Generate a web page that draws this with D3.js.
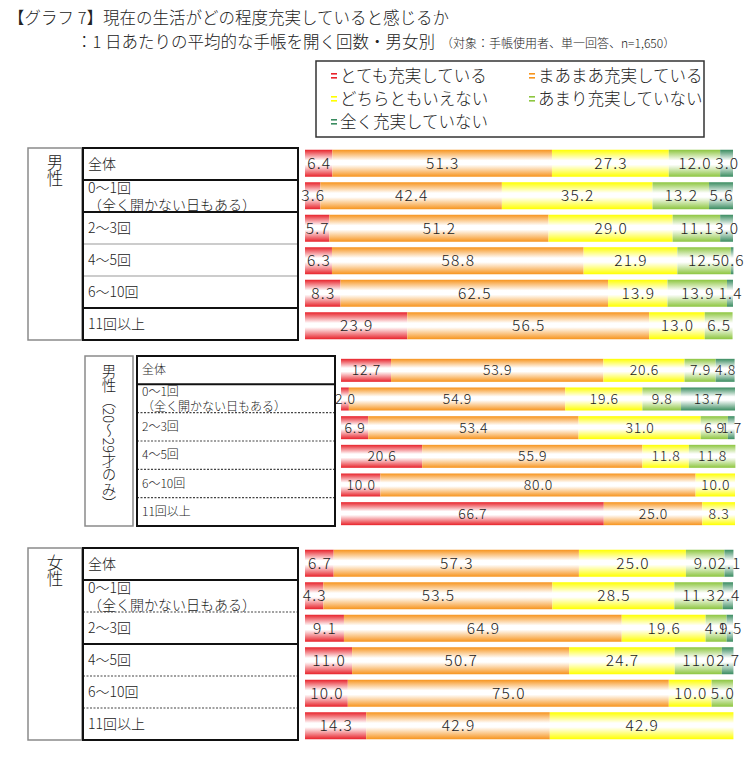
<!DOCTYPE html>
<html><head><meta charset="utf-8">
<script src="https://cdn.jsdelivr.net/npm/d3@7"></script>
<style>
html,body{margin:0;padding:0;background:#fff;}
svg{display:block;font-family:"Noto Sans CJK JP","Noto Sans",sans-serif;font-weight:300;}
</style></head>
<body>
<svg id="chart" width="748" height="768"></svg>
<script>
// ---- data ----
const titleLine1 = "【グラフ 7】現在の生活がどの程度充実していると感じるか";
const titleLine2 = "：1 日あたりの平均的な手帳を開く回数・男女別";
const titleNote = "（対象：手帳使用者、単一回答、n=1,650）";
const seriesNames = ["とても充実している","まあまあ充実している","どちらともいえない","あまり充実していない","全く充実していない"];
const seriesColors = ["#e8222a","#f7941d","#ffff00","#8dc63f","#3a8c60"];
const categories = ["全体","0～1回","2～3回","4～5回","6～10回","11回以上"];
const categoryNote = "（全く開かない日もある）";
const groupNames = ["男性","男性（20～29才のみ）","女性"];
const maleValues = [
  [6.4,51.3,27.3,12.0,3.0],
  [3.6,42.4,35.2,13.2,5.6],
  [5.7,51.2,29.0,11.1,3.0],
  [6.3,58.8,21.9,12.5,0.6],
  [8.3,62.5,13.9,13.9,1.4],
  [23.9,56.5,13.0,6.5,0]
];
const male20sValues = [
  [12.7,53.9,20.6,7.9,4.8],
  [2.0,54.9,19.6,9.8,13.7],
  [6.9,53.4,31.0,6.9,1.7],
  [20.6,55.9,11.8,11.8,0],
  [10.0,80.0,10.0,0,0],
  [66.7,25.0,8.3,0,0]
];
const femaleValues = [
  [6.7,57.3,25.0,9.0,2.1],
  [4.3,53.5,28.5,11.3,2.4],
  [9.1,64.9,19.6,4.9,1.5],
  [11.0,50.7,24.7,11.0,2.7],
  [10.0,75.0,10.0,5.0,0],
  [14.3,42.9,42.9,0,0]
];

// ---- drawing ----
const svg = d3.select("#chart");
const defs = svg.append("defs");
seriesColors.forEach((c,i)=>{
  const g = defs.append("linearGradient").attr("id","g"+i)
    .attr("x1",0).attr("y1",0).attr("x2",0).attr("y2",1);
  g.append("stop").attr("offset","0%").attr("stop-color",c);
  g.append("stop").attr("offset","40%").attr("stop-color","#fff");
  g.append("stop").attr("offset","55%").attr("stop-color","#fff");
  g.append("stop").attr("offset","100%").attr("stop-color",c);
});

// title
svg.append("text").attr("x",8).attr("y",24).attr("font-size",16.5).attr("fill","#222").text(titleLine1);
const t2 = svg.append("text").attr("x",76).attr("y",48).attr("font-size",16.5).attr("fill","#222");
t2.append("tspan").text(titleLine2);
t2.append("tspan").attr("font-size",12).attr("dx",6).text(titleNote);

// legend
svg.append("rect").attr("x",316).attr("y",61).attr("width",388).attr("height",76)
  .attr("fill","none").attr("stroke","#333").attr("stroke-width",1.5);
const legPos = [[331,76],[529,76],[331,99],[529,99],[331,122]];
seriesNames.forEach((n,i)=>{
  const [lx,ly] = legPos[i];
  const g = svg.append("g").attr("transform",`translate(${lx},${ly})`);
  g.append("rect").attr("x",0).attr("y",-3).attr("width",6).attr("height",1.6).attr("fill",seriesColors[i]);
  g.append("rect").attr("x",0).attr("y",1).attr("width",6).attr("height",1.6).attr("fill",seriesColors[i]);
  g.append("text").attr("x",9).attr("y",6).attr("font-size",16.5).attr("fill","#222").text(n);
});

function drawGroup(cfg){
  const {values, outer, box, barX, barY0, barY1, barH, fontSize, labelFs, seps, groupLabel, vertical, ls} = cfg;
  // outer gray box
  svg.append("rect").attr("x",outer[0]).attr("y",outer[1]).attr("width",outer[2]-outer[0]).attr("height",outer[3]-outer[1])
    .attr("fill","none").attr("stroke","#8a8a8a").attr("stroke-width",1.5);
  // group label (vertical)
  svg.append("text").attr("x",(outer[0]+outer[2])/2).attr("y",outer[1]+(vertical?8:6))
    .attr("font-size",vertical?14.5:16.5).attr("fill","#222")
    .style("writing-mode","vertical-rl").text(groupLabel);

  const y = d3.scaleBand().domain(categories).range([box[1],box[3]]);
  const x = d3.scaleLinear().domain([0,100]).range(barX);
  const yb = d3.scaleBand().domain(categories).range([barY0,barY1]).paddingInner(0).paddingOuter(0);

  // row labels
  categories.forEach((c,i)=>{
    const ry = y(c);
    if(i===1){
      svg.append("text").attr("x",box[0]+5).attr("y",ry+y.bandwidth()*0.42).attr("font-size",labelFs).attr("fill","#222").text(c);
      svg.append("text").attr("x",box[0]+5).attr("y",ry+y.bandwidth()*0.42+labelFs*1.2).attr("font-size",labelFs).attr("fill","#222").text(categoryNote);
    } else {
      svg.append("text").attr("x",box[0]+5).attr("y",ry+y.bandwidth()/2).attr("dy","0.36em").attr("font-size",labelFs).attr("fill","#222").text(c);
    }
  });
  // separators
  seps.forEach((s,i)=>{
    const sy = y(categories[i+1]);
    const line = svg.append("line").attr("x1",box[0]).attr("x2",box[2]).attr("y1",sy).attr("y2",sy);
    if(s==="black") line.attr("stroke","#111").attr("stroke-width",2);
    else if(s==="gray") line.attr("stroke","#999").attr("stroke-width",1.2);
    else line.attr("stroke","#444").attr("stroke-width",1.2).attr("stroke-dasharray","2,1.5");
  });
  svg.append("rect").attr("x",box[0]).attr("y",box[1]).attr("width",box[2]-box[0]).attr("height",box[3]-box[1])
    .attr("fill","none").attr("stroke","#111").attr("stroke-width",2);

  // bars
  values.forEach((row,ri)=>{
    const cy = yb(categories[ri]) + yb.bandwidth()/2;
    let acc = 0;
    row.forEach((v,si)=>{
      const x0 = x(acc), x1 = x(acc+v);
      acc += v;
      if(v<=0) return;
      svg.append("rect").attr("x",x0).attr("y",cy-barH/2).attr("width",Math.max(0,x1-x0)).attr("height",barH)
        .attr("fill",`url(#g${si})`);
    });
    acc = 0;
    row.forEach((v,si)=>{
      const x0 = x(acc), x1 = x(acc+v);
      acc += v;
      if(v<=0) return;
      svg.append("text").attr("x",(x0+x1)/2+ls/2).attr("y",cy).attr("dy","0.36em").attr("text-anchor","middle")
        .attr("letter-spacing",ls)
        .attr("font-size",fontSize).attr("fill","#222").text(v.toFixed(1));
    });
  });
}

drawGroup({values:maleValues, outer:[28,148,82,340], box:[83,148,298,340], barX:[305,733],
  barY0:147, barY1:342, barH:27, fontSize:15.5, labelFs:14, seps:["black","black","gray","gray","black"],
  groupLabel:groupNames[0], vertical:false, ls:1.2});
drawGroup({values:male20sValues, outer:[85,356,133,526], box:[137,356,335,526], barX:[341,735],
  barY0:356, barY1:528, barH:23, fontSize:14, labelFs:12, seps:["black","dot","dot","dot","dot"],
  groupLabel:groupNames[1], vertical:true, ls:0.8});
drawGroup({values:femaleValues, outer:[28,548,82,740], box:[83,548,298,740], barX:[305,733],
  barY0:547, barY1:742, barH:27, fontSize:15.5, labelFs:14, seps:["black","dot","black","dot","dot"],
  groupLabel:groupNames[2], vertical:false, ls:1.2});
</script>
</body></html>
